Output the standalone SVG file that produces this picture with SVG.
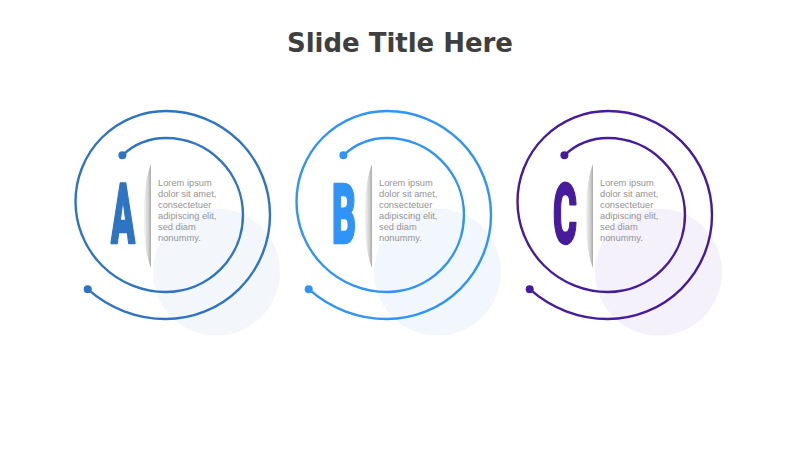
<svg xmlns="http://www.w3.org/2000/svg" width="800" height="450" viewBox="0 0 800 450">
  <style>
    .spiral { fill: none; stroke-width: 2.4; stroke-linecap: round; }
    .letter { font-family: Roboto, "DejaVu Sans", sans-serif; font-weight: 900; font-size: 83px; text-anchor: middle; stroke-width: 2.4; stroke-linejoin: round; }
    .body { font-family: "Liberation Sans", Arial, sans-serif; font-size: 9.3px; fill: #949494; }
    .title { font-family: "DejaVu Sans", Verdana, sans-serif; font-weight: bold; font-size: 26px; fill: #3f3f3f; text-anchor: middle; }
  </style>
  <defs>
    <linearGradient id="barGrad" x1="0" y1="0" x2="1" y2="0">
      <stop offset="0" stop-color="#f4f4f4"/>
      <stop offset="0.6" stop-color="#d2d2d2"/>
      <stop offset="1" stop-color="#a9a9a9"/>
    </linearGradient>
    <path id="spiralPath" d="M122.4,155.3 A63.5,63.5 0 0 1 166,138 A77,77 0 0 1 166,292 A90.5,90.5 0 0 1 166,111 A104,104 0 0 1 166,319 A117.5,117.5 0 0 1 87.7,289.2"/>
    <path id="barPath" d="M151,164 Q144,180 144,216 Q144,252 151,268 Z"/>
    <g id="bodyText">
      <text class="body" x="158" y="186">Lorem ipsum</text>
      <text class="body" x="158" y="197">dolor sit amet,</text>
      <text class="body" x="158" y="208">consectetuer</text>
      <text class="body" x="158" y="219">adipiscing elit,</text>
      <text class="body" x="158" y="230">sed diam</text>
      <text class="body" x="158" y="241">nonummy.</text>
    </g>
  </defs>

  <text class="title" x="400" y="52" textLength="226">Slide Title Here</text>

  <g id="node-a">
    <circle cx="216.5" cy="272" r="63.5" fill="#f3f7fc"/>
    <use href="#spiralPath" class="spiral" stroke="#2f74c2"/>
    <circle cx="122.4" cy="155.3" r="4" fill="#2f74c2"/>
    <circle cx="87.7" cy="289.2" r="4" fill="#2f74c2"/>
    <use href="#barPath" fill="url(#barGrad)"/>
    <text class="letter" x="123" y="243" fill="#2f74c2" stroke="#2f74c2" textLength="24" lengthAdjust="spacingAndGlyphs">A</text>
    <use href="#bodyText"/>
  </g>

  <g id="node-b" transform="translate(221,0)">
    <circle cx="216.5" cy="272" r="63.5" fill="#f2f7fd"/>
    <use href="#spiralPath" class="spiral" stroke="#3094f6"/>
    <circle cx="122.4" cy="155.3" r="4" fill="#3094f6"/>
    <circle cx="87.7" cy="289.2" r="4" fill="#3094f6"/>
    <use href="#barPath" fill="url(#barGrad)"/>
    <text class="letter" x="123" y="243" fill="#3094f6" stroke="#3094f6" textLength="24" lengthAdjust="spacingAndGlyphs">B</text>
    <use href="#bodyText"/>
  </g>

  <g id="node-c" transform="translate(442,0)">
    <circle cx="216.5" cy="272" r="63.5" fill="#f4f1fa"/>
    <use href="#spiralPath" class="spiral" stroke="#461c9c"/>
    <circle cx="122.4" cy="155.3" r="4" fill="#461c9c"/>
    <circle cx="87.7" cy="289.2" r="4" fill="#461c9c"/>
    <use href="#barPath" fill="url(#barGrad)"/>
    <text class="letter" x="123" y="243" fill="#461c9c" stroke="#461c9c" textLength="24" lengthAdjust="spacingAndGlyphs">C</text>
    <use href="#bodyText"/>
  </g>

  <g id="connectors"/>
</svg>
